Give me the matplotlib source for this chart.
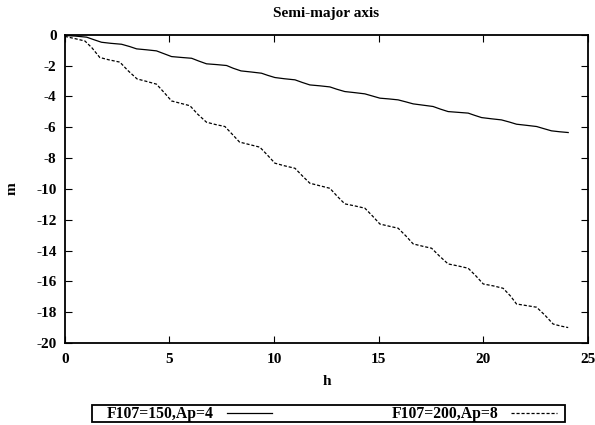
import matplotlib
matplotlib.use('Agg')
import matplotlib.pyplot as plt
from matplotlib.patches import Rectangle

# Datos (h, m)
h_150 = [0.0, 0.5, 1.04, 1.4, 1.75, 2.2, 2.71, 3.1, 3.43, 3.9, 4.38, 4.75, 5.1, 5.6, 6.06,
         6.4, 6.77, 7.25, 7.73, 8.05, 8.42, 8.9, 9.4, 9.7, 10.04, 10.5, 11.0, 11.35, 11.71,
         12.2, 12.67, 13.0, 13.38, 13.85, 14.34, 14.7, 15.06, 15.5, 15.93, 16.3, 16.65,
         17.1, 17.6, 17.95, 18.32, 18.8, 19.28, 19.6, 19.92, 20.4, 20.87, 21.25, 21.59,
         22.05, 22.55, 22.9, 23.26, 23.65, 24.06]
m_150 = [-0.04, -0.08, -0.15, -0.32, -0.48, -0.55, -0.61, -0.76, -0.91, -0.97, -1.04, -1.23, -1.41, -1.47, -1.52,
         -1.70, -1.88, -1.93, -1.99, -2.17, -2.34, -2.41, -2.49, -2.63, -2.77, -2.85, -2.92, -3.09, -3.25,
         -3.31, -3.38, -3.53, -3.68, -3.75, -3.83, -3.97, -4.11, -4.16, -4.22, -4.35, -4.48,
         -4.56, -4.65, -4.82, -4.98, -5.03, -5.08, -5.23, -5.37, -5.45, -5.52, -5.66, -5.80,
         -5.87, -5.95, -6.09, -6.23, -6.29, -6.34]

h_200 = [0.0, 0.5, 0.96, 1.3, 1.67, 2.1, 2.63, 3.0, 3.45, 3.9, 4.38, 4.75, 5.1, 5.55, 5.98,
         6.35, 6.77, 7.2, 7.65, 8.0, 8.35, 8.85, 9.32, 9.68, 10.04, 10.5, 11.0, 11.35, 11.71,
         12.2, 12.67, 13.0, 13.38, 13.85, 14.34, 14.7, 15.06, 15.5, 15.93, 16.3, 16.65,
         17.1, 17.53, 17.9, 18.32, 18.8, 19.28, 19.65, 20.0, 20.5, 20.95, 21.3, 21.59,
         22.1, 22.55, 22.95, 23.34, 23.7, 24.06]
m_200 = [-0.10, -0.25, -0.40, -0.85, -1.47, -1.62, -1.77, -2.30, -2.86, -3.02, -3.20, -3.75, -4.29, -4.45, -4.60,
         -5.15, -5.67, -5.82, -5.95, -6.45, -6.96, -7.13, -7.29, -7.80, -8.33, -8.50, -8.66, -9.15, -9.63,
         -9.80, -9.96, -10.45, -10.97, -11.10, -11.25, -11.75, -12.28, -12.42, -12.55, -13.05, -13.57,
         -13.72, -13.85, -14.35, -14.87, -15.00, -15.15, -15.65, -16.17, -16.30, -16.45, -16.95, -17.47,
         -17.58, -17.68, -18.20, -18.77, -18.90, -19.00]

etiquetas = ['F107=150,Ap=4', 'F107=200,Ap=8']

plt.rcParams['font.family'] = ['Liberation Serif', 'DejaVu Serif']
plt.rcParams['font.weight'] = 'bold'
plt.rcParams['font.size'] = 11
plt.rcParams['axes.unicode_minus'] = False

fig = plt.figure(figsize=(5.95, 4.25), dpi=100)
ax = fig.add_axes([0.109, 0.193, 0.879, 0.725])

ax.plot(h_150, m_150, color='black', linewidth=0.9, label=etiquetas[0])
ax.plot(h_200, m_200, color='black', linewidth=0.9, linestyle=(0, (2.5, 1.5)), label=etiquetas[1])

ax.set_xlim(0, 25)
ax.set_ylim(-20, 0)
ax.set_xticks(range(0, 26, 5))
ax.set_yticks(range(-20, 1, 2))
ax.tick_params(direction='in', top=True, right=True, length=5, width=0.8, labelsize=11)
ax.tick_params(axis='x', pad=7)
ax.tick_params(axis='y', pad=6)
for s in ax.spines.values():
    s.set_linewidth(1.3)

ax.set_title('Semi-major axis', fontsize=11, fontweight='bold', pad=13)
ax.set_xlabel('h', fontsize=11, fontweight='bold', labelpad=7)
ax.set_ylabel('m', fontsize=11, fontweight='bold', labelpad=13)

# caja de la leyenda
caja = Rectangle((0.154, 0.006), 0.796, 0.040, transform=fig.transFigure, fill=False,
                 edgecolor='black', linewidth=1.3)
fig.add_artist(caja)

leg = fig.legend(loc='lower left', bbox_to_anchor=(0.18, 0.006, 0.756, 0.040), mode='expand',
                 ncol=2, markerfirst=False, frameon=False,
                 handlelength=2.9, borderpad=0.0, borderaxespad=0, handletextpad=0.8,
                 prop={'family': ['Liberation Serif'], 'weight': 'bold', 'size': 11.3})

fig.savefig('out.png', dpi=100)
